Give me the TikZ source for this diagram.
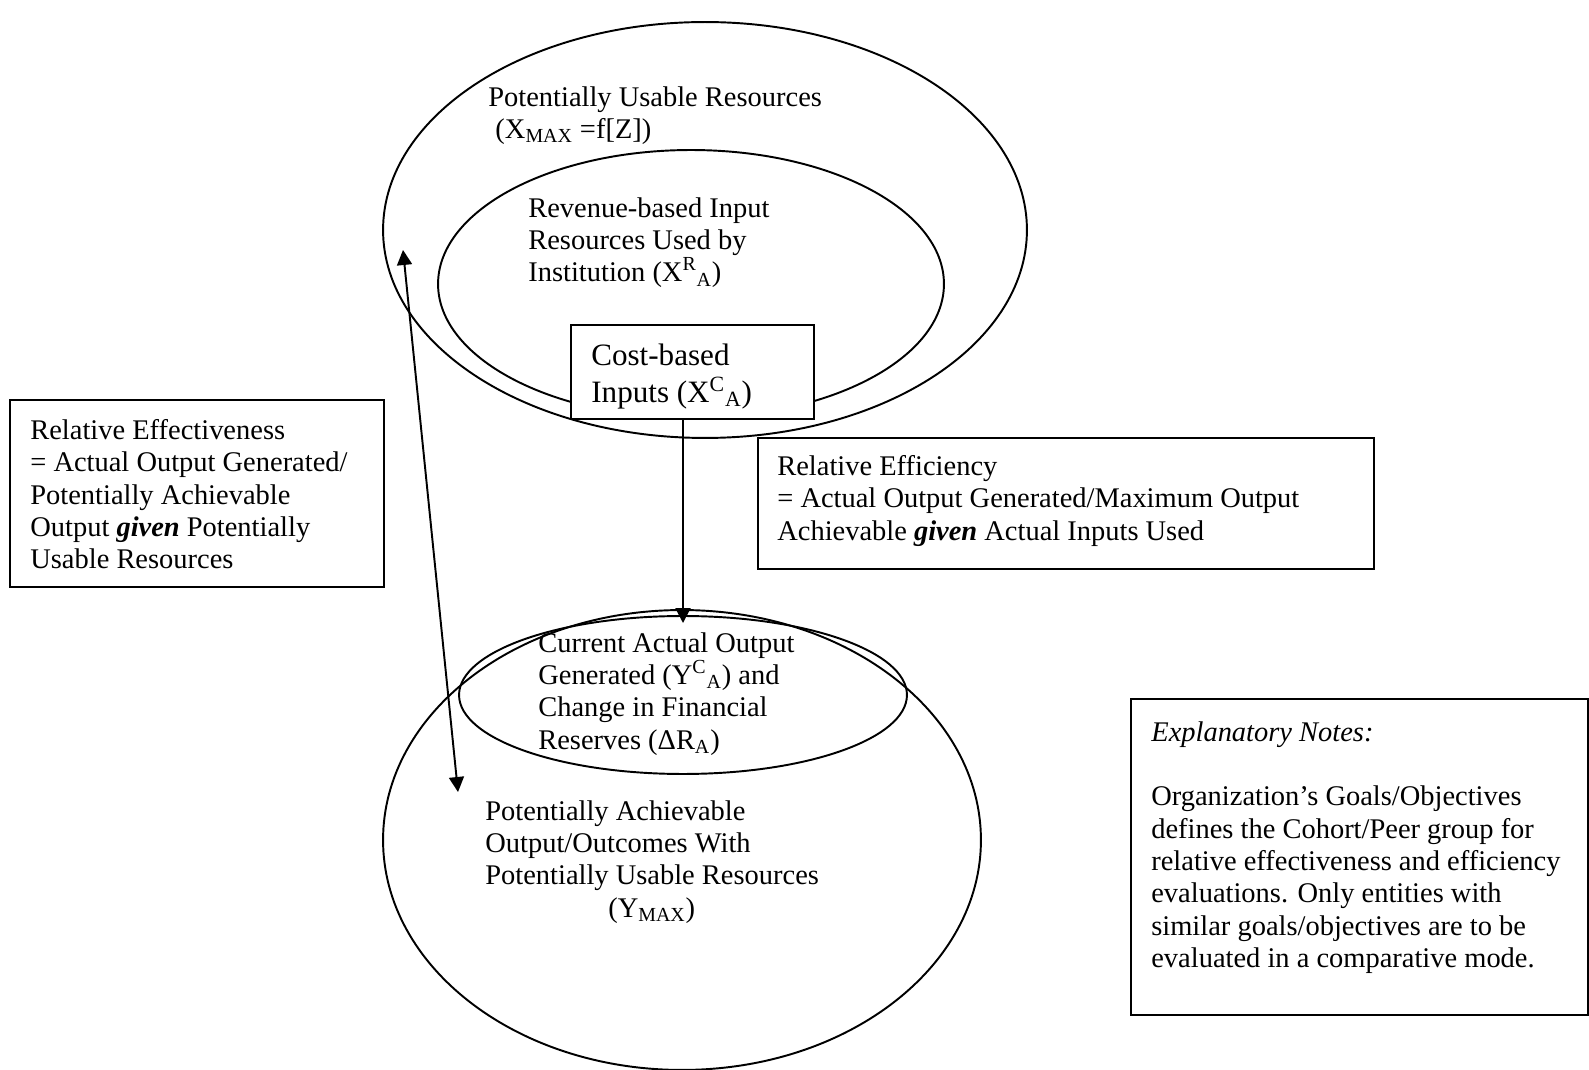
\documentclass[tikz,border=0pt]{standalone}
\usepackage{fontspec}
\setmainfont{Liberation Serif}
\usetikzlibrary{arrows.meta,positioning,shapes.geometric}

\begin{document}
\begin{tikzpicture}[x=0.02cm, y=-0.02cm,
  ring/.style={draw, ellipse, line width=1.1pt, inner sep=0pt, outer sep=0pt},
  frame/.style={draw, rectangle, fill=white, line width=1pt, inner sep=0pt, outer sep=0pt, anchor=north west},
  txt/.style={anchor=north west, inner sep=0pt, align=left, font=\fontsize{16.2}{18.4}\selectfont},
  link/.style={line width=1.1pt, -{Triangle[width=0.3cm,length=0.3cm]}}]
\useasboundingbox (0,0) rectangle (1589,1070);
% resources and outputs
\node[ring, minimum width=12.88cm, minimum height=8.32cm] (usable) at (705,230) {};
\node[ring, minimum width=10.12cm, minimum height=5.36cm] (revenue) at (691,284) {};
\node[ring, minimum width=11.96cm, minimum height=9.2cm] (achievable) at (682,840) {};
\node[ring, minimum width=8.96cm, minimum height=3.16cm] (current) at (683,695) {};
\node[txt] (usabletxt) at (488,86) {Potentially Usable Resources\\\hspace*{0.25em}(X\textsubscript{MAX} =f[Z])};
\node[txt] (revenuetxt) at (528,197) {Revenue-based Input\\Resources Used by\\Institution (X\textsuperscript{R}\textsubscript{A})};
\node[txt] (currenttxt) at (538,632) {Current Actual Output\\Generated (Y\textsuperscript{C}\textsubscript{A}) and\\Change in Financial\\Reserves (ΔR\textsubscript{A})};
\node[txt] (achievabletxt) at (485,800) {Potentially Achievable\\Output/Outcomes With\\Potentially Usable Resources\\\hspace*{2.46cm}(Y\textsubscript{MAX})};
% boxes
\node[frame, minimum width=4.86cm, minimum height=1.88cm] (cost) at (571,325) {};
\node[txt, font=\fontsize{17.7}{20.7}\selectfont, below right=0.38cm and 0.4cm of cost.north west] (costtxt) {Cost-based\\Inputs (X\textsuperscript{C}\textsubscript{A})};
\node[frame, minimum width=7.48cm, minimum height=3.74cm] (effect) at (10,400) {};
\node[txt, below right=0.38cm and 0.4cm of effect.north west] (effecttxt) {Relative Effectiveness\\= Actual Output Generated/\\Potentially Achievable\\Output \textbf{\textit{given}} Potentially\\Usable Resources};
\node[frame, minimum width=12.32cm, minimum height=2.62cm] (effic) at (758,438) {};
\node[txt, below right=0.34cm and 0.38cm of effic.north west] (effictxt) {Relative Efficiency\\= Actual Output Generated/Maximum Output\\Achievable \textbf{\textit{given}} Actual Inputs Used};
\node[frame, minimum width=9.14cm, minimum height=6.32cm] (notes) at (1131,699) {};
\node[txt, below right=0.44cm and 0.4cm of notes.north west] (notestxt) {\textit{Explanatory Notes:}\\[18.4pt]Organization’s Goals/Objectives\\defines the Cohort/Peer group for\\relative effectiveness and efficiency\\evaluations. Only entities with\\similar goals/objectives are to be\\evaluated in a comparative mode.};
% arrows
\draw[link] (current.north |- cost.south) -- ([yshift=-0.14cm]current.north);
\coordinate (reachtop) at (403,250);
\coordinate (reachbot) at (458,792);
\draw[link, {Triangle[width=0.3cm,length=0.3cm]}-{Triangle[width=0.3cm,length=0.3cm]}] (reachtop) -- (reachbot);
\end{tikzpicture}
\end{document}
